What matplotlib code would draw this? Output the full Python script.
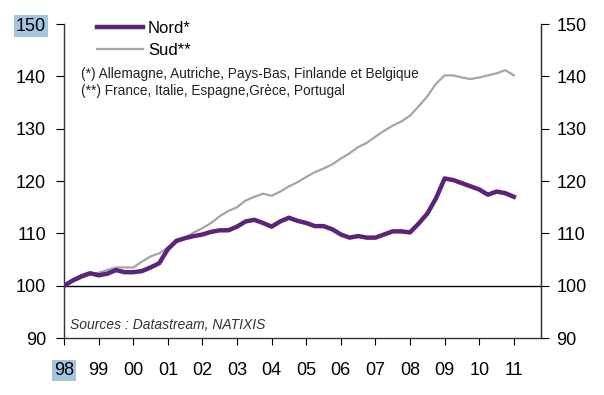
import numpy as np
import matplotlib.pyplot as plt

plt.rcParams['font.family'] = ['Liberation Sans', 'DejaVu Sans']

# quarterly, 1998Q1 .. 2011Q1
years = np.arange(1998, 2011.01, 0.25)
nord = [100, 101, 101.8, 102.4, 102.0, 102.3, 103.0, 102.6,
        102.6, 102.8, 103.5, 104.3, 107.0, 108.6, 109.1, 109.5,
        109.8, 110.3, 110.6, 110.6, 111.3, 112.3, 112.6, 112.0,
        111.3, 112.3, 113.0, 112.4, 112.0, 111.4, 111.4, 110.8,
        109.8, 109.2, 109.5, 109.2, 109.2, 109.8, 110.4, 110.4,
        110.2, 111.9, 113.8, 116.7, 120.5, 120.2, 119.6, 119.0,
        118.4, 117.4, 118.0, 117.7, 117.0]
sud = [100, 100.8, 101.5, 102.1, 102.5, 103.0, 103.5, 103.5,
       103.5, 104.6, 105.6, 106.2, 107.3, 108.3, 109.2, 110.2,
       111.0, 112.0, 113.3, 114.3, 115.0, 116.3, 117.0, 117.6,
       117.2, 118.0, 119.0, 119.8, 120.8, 121.7, 122.4, 123.2,
       124.3, 125.3, 126.5, 127.3, 128.5, 129.6, 130.6, 131.4,
       132.5, 134.3, 136.2, 138.6, 140.2, 140.2, 139.8, 139.5,
       139.8, 140.2, 140.6, 141.2, 140.2]
xlabels = ['98', '99', '00', '01', '02', '03', '04', '05', '06', '07', '08', '09', '10', '11']
yticks = [90, 100, 110, 120, 130, 140, 150]

purple = '#5a2479'
grey = '#a5a5a5'

fig = plt.figure(figsize=(6.04, 3.95), dpi=100)
ax = fig.add_axes([0.106, 0.144, 0.79, 0.795])

ax.axhline(100, color='black', lw=1, zorder=1)
l_sud, = ax.plot(years, sud, color=grey, lw=1.6, label='Sud**', zorder=2)
l_nord, = ax.plot(years, nord, color=purple, lw=3.2, label='Nord*', zorder=3)

ax.set_xlim(1998, 2011.79)
ax.set_ylim(90, 150)
ax.set_xticks(np.arange(1998, 2012))
ax.set_xticklabels(xlabels)
ax.set_yticks(yticks)

ax.spines['top'].set_visible(False)
for s in ['left', 'bottom', 'right']:
    ax.spines[s].set_color('#333333')
    ax.spines[s].set_linewidth(1)

ax.tick_params(axis='x', labelsize=13, length=5, pad=12, direction='out')
ax.tick_params(axis='y', labelsize=13, length=6, pad=7, direction='out')

ax2 = ax.twinx()
ax2.set_ylim(90, 150)
ax2.set_yticks(yticks)
ax2.spines['top'].set_visible(False)
ax2.spines['left'].set_visible(False)
ax2.spines['bottom'].set_visible(False)
ax2.spines['right'].set_color('#333333')
ax2.tick_params(axis='y', labelsize=13, length=6, pad=5, direction='out')

# selection highlight as in the original
hl = dict(facecolor='#a3c6dc', edgecolor='none', pad=1.5)
ax.get_xticklabels()[0].set_bbox(hl)
ax.get_yticklabels()[-1].set_bbox(hl)

ax.legend(handles=[l_nord, l_sud], loc='upper left',
          bbox_to_anchor=(0.069, 1.009), frameon=False, fontsize=12,
          borderpad=0, borderaxespad=0,
          handlelength=2.75, handletextpad=0.3, labelspacing=0.42)

ax.text(0.035, 0.842, "(*) Allemagne, Autriche, Pays-Bas, Finlande et Belgique",
        transform=ax.transAxes, fontsize=9.8, color='#222222', va='center')
ax.text(0.035, 0.788, "(**) France, Italie, Espagne,Grèce, Portugal",
        transform=ax.transAxes, fontsize=9.8, color='#222222', va='center')
ax.text(0.012, 0.041, "Sources : Datastream, NATIXIS", transform=ax.transAxes,
        fontsize=10, style='italic', color='#333333', va='center')

fig.savefig('out.png', dpi=100)
